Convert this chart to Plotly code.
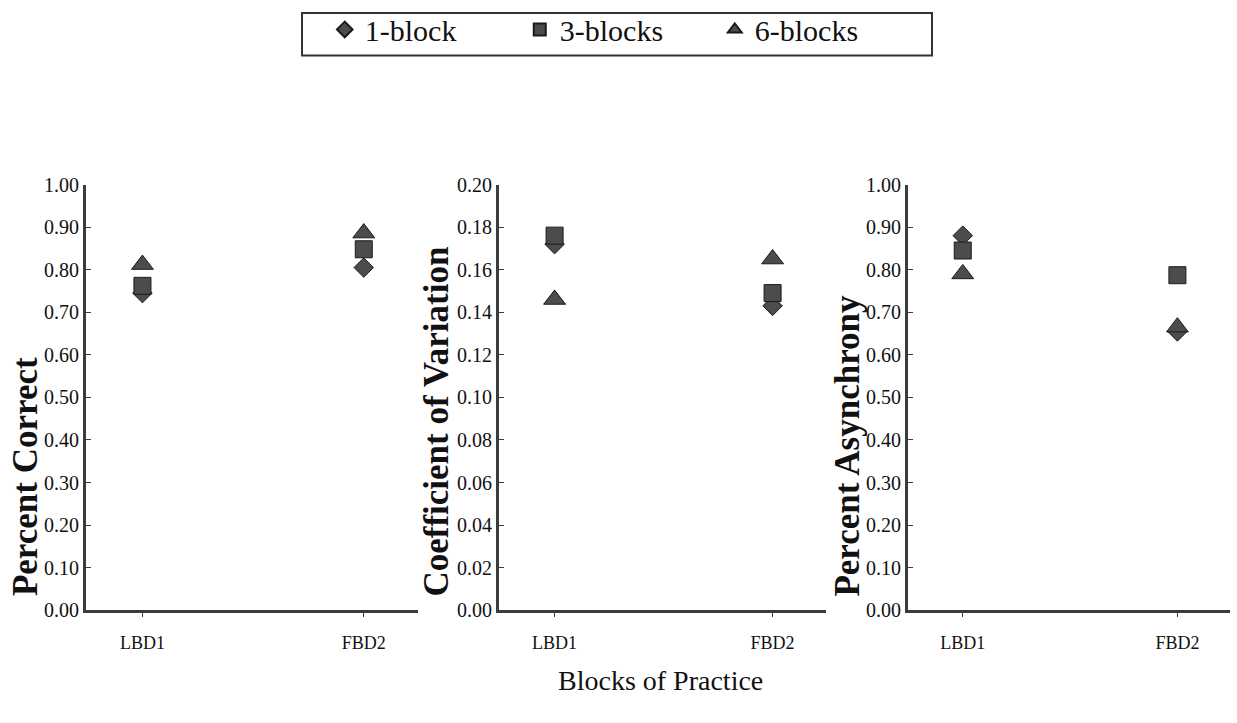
import plotly.graph_objects as go

# Categories on every x axis
categories = ["LBD1", "FBD2"]
series_names = ["1-block", "3-blocks", "6-blocks"]

# Percent Correct
pc_1block = [0.745, 0.805]
pc_3blocks = [0.762, 0.848]
pc_6blocks = [0.812, 0.886]

# Coefficient of Variation
cv_1block = [0.172, 0.143]
cv_3blocks = [0.176, 0.149]
cv_6blocks = [0.146, 0.165]

# Percent Asynchrony
pa_1block = [0.880, 0.655]
pa_3blocks = [0.845, 0.787]
pa_6blocks = [0.790, 0.665]

y_titles = ["Percent Correct", "Coefficient of Variation", "Percent Asynchrony"]
y_ranges = [(0, 1.0, 0.1), (0, 0.2, 0.02), (0, 1.0, 0.1)]
panel_values = [
    [pc_1block, pc_3blocks, pc_6blocks],
    [cv_1block, cv_3blocks, cv_6blocks],
    [pa_1block, pa_3blocks, pa_6blocks],
]

W, H = 1237, 723
FONT = "Liberation Serif, Times New Roman, serif"
INK = "#111111"
AXIS = "#3c3c3c"
MARK = "#4c4c4c"

symbols = ["diamond", "square", "triangle-up"]
sizes = [15, 17, 19]

# pixel geometry of the three panels
x_px = [(86, 418), (499, 826), (908, 1230)]
y_px = (179, 618)
title_x_px = [25, 437, 848]

fig = go.Figure()

for p in range(3):
    ax = "" if p == 0 else str(p + 1)
    for s in range(3):
        fig.add_trace(go.Scatter(
            x=categories,
            y=panel_values[p][s],
            mode="markers",
            name=series_names[s],
            legendgroup=series_names[s],
            showlegend=(p == 0),
            marker=dict(symbol=symbols[s], size=sizes[s], color=MARK,
                        line=dict(color="#1a1a1a", width=1)),
            xaxis="x" + ax,
            yaxis="y" + ax,
        ))

layout = dict(
    width=W, height=H,
    margin=dict(l=0, r=0, t=0, b=0),
    paper_bgcolor="white",
    plot_bgcolor="white",
    font=dict(family=FONT, color=INK, size=19),
    showlegend=True,
    legend=dict(
        orientation="h",
        x=0.499, xanchor="center",
        y=1 - 19 / H, yanchor="middle",
        font=dict(family=FONT, size=30, color=INK),
        bgcolor="rgba(0,0,0,0)",
        borderwidth=0,
        entrywidth=150,
        entrywidthmode="pixels",
        itemsizing="constant",
    ),
)

annotations = []
shapes = []
for p in range(3):
    ax = "" if p == 0 else str(p + 1)
    x0, x1 = x_px[p]
    lo, hi, step = y_ranges[p]
    layout["xaxis" + ax] = dict(
        domain=[x0 / W, x1 / W],
        anchor="y" + ax,
        type="category",
        range=[-0.255, 1.245],
        showline=True, linecolor=AXIS, linewidth=3,
        showgrid=False, zeroline=False,
        ticks="outside", ticklen=4, tickwidth=1, tickcolor=AXIS,
        ticklabelstandoff=10,
        tickfont=dict(family=FONT, size=18, color=INK),
    )
    layout["yaxis" + ax] = dict(
        domain=[1 - y_px[1] / H, 1 - y_px[0] / H],
        anchor="x" + ax,
        range=[lo, hi],
        dtick=step, tick0=0,
        tickformat=".2f",
        showline=True, linecolor=AXIS, linewidth=3,
        showgrid=False, zeroline=False,
        ticks="inside", ticklen=5, tickwidth=1, tickcolor=AXIS,
        tickfont=dict(family=FONT, size=20, color=INK),
    )
    annotations.append(dict(
        text="<b>" + y_titles[p] + "</b>",
        xref="paper", yref="paper",
        x=title_x_px[p] / W, y=1 - 606 / H,
        xanchor="center", yanchor="bottom",
        textangle=-90, showarrow=False,
        font=dict(family=FONT, size=35, color=INK),
    ))

annotations.append(dict(
    text="Blocks of Practice",
    xref="paper", yref="paper",
    x=660 / W, y=1 - 690 / H,
    xanchor="center", yanchor="middle",
    showarrow=False,
    font=dict(family=FONT, size=28, color=INK),
))

# frame around the legend
shapes.append(dict(
    type="rect", xref="paper", yref="paper",
    x0=302 / W, x1=932 / W, y0=1 - 46 / H, y1=1 - 2 / H,
    line=dict(color="#333333", width=2), fillcolor="rgba(0,0,0,0)",
))

layout["annotations"] = annotations
layout["shapes"] = shapes
fig.update_layout(**layout)

fig.write_html("out.html")
